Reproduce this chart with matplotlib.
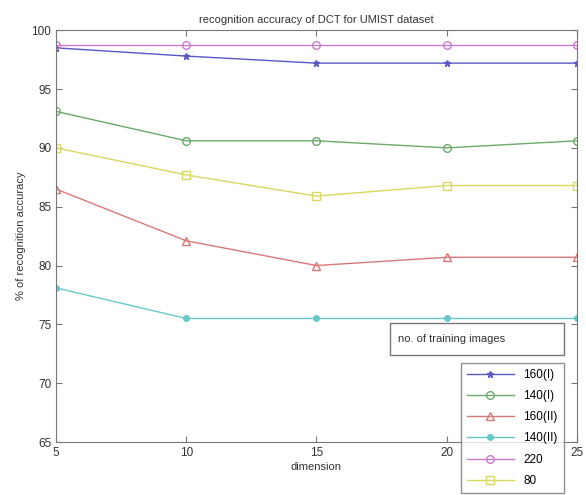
import numpy as np
import matplotlib.pyplot as plt
from matplotlib.patches import Rectangle

plt.rcParams['font.family'] = ['Liberation Sans', 'DejaVu Sans']

dims = [5, 10, 15, 20, 25]
acc_160_I = [98.5, 97.8, 97.2, 97.2, 97.2]
acc_140_I = [93.1, 90.6, 90.6, 90.0, 90.6]
acc_160_II = [86.5, 82.1, 80.0, 80.7, 80.7]
acc_140_II = [78.1, 75.5, 75.5, 75.5, 75.5]
acc_220 = [98.7, 98.7, 98.7, 98.7, 98.7]
acc_80 = [90.0, 87.7, 85.9, 86.8, 86.8]
labels = ["160(I)", "140(I)", "160(II)", "140(II)", "220", "80"]

fig = plt.figure(figsize=(5.86, 4.95), dpi=100)
ax = fig.add_axes([0.0956, 0.107, 0.889, 0.832])

grey = "#777777"
ax.plot(dims, acc_160_I, color="#5858c8", marker="*", ms=4.5, lw=1, label=labels[0])
ax.plot(dims, acc_140_I, color="#6aaa6a", marker="o", ms=5.5, mfc="none", lw=1, label=labels[1])
ax.plot(dims, acc_160_II, color="#d87878", marker="^", ms=5.5, mfc="none", lw=1, label=labels[2])
ax.plot(dims, acc_140_II, color="#66c8c8", marker="o", ms=4, lw=1, label=labels[3])
ax.plot(dims, acc_220, color="#cc7acc", marker="o", ms=5.5, mfc="none", lw=1, label=labels[4])
ax.plot(dims, acc_80, color="#d8d860", marker="s", ms=5.5, mfc="none", lw=1, label=labels[5])

ax.set_xlim(5, 25)
ax.set_ylim(65, 100)
ax.set_xticks(dims)
ax.set_yticks(np.arange(65, 101, 5))
ax.tick_params(direction="in", top=True, right=True, colors=grey, labelcolor="#333333",
               labelsize=8.5, length=4)
for s in ax.spines.values():
    s.set_color(grey)

ax.set_title("recognition accuracy of DCT for UMIST dataset", fontsize=8, color="#333333", pad=5)
ax.set_xlabel("dimension", fontsize=8, color="#333333", labelpad=2)
ax.set_ylabel("% of recognition accuracy", fontsize=8, color="#333333", labelpad=4)

# box with legend title
fig.patches.append(Rectangle((390 / 586, 1 - 355 / 495), 174 / 586, 32 / 495,
                             transform=fig.transFigure, fill=True, fc="white",
                             ec=grey, lw=1, zorder=5))
fig.text(398 / 586, 1 - 339 / 495, "no. of training images", fontsize=8,
         color="#333333", va="center", zorder=6)

leg = fig.legend(loc="upper left", bbox_to_anchor=(455 / 586, 1 - 357 / 495),
                 fontsize=8.5, frameon=True, fancybox=False, edgecolor=grey,
                 handlelength=4.0, labelspacing=0.78, borderpad=0.5)
leg.get_frame().set_linewidth(1)

fig.savefig("out.png", dpi=100)
